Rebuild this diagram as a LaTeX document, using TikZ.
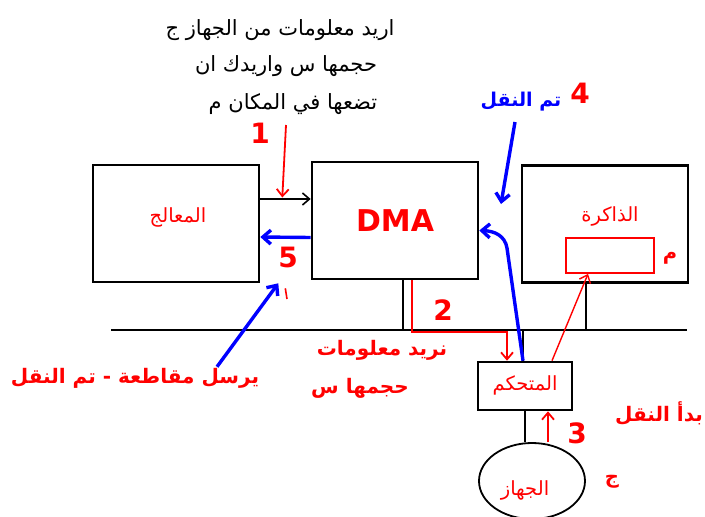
\documentclass[tikz,border=0pt]{standalone}
\usepackage{fontspec}
\usepackage{xcolor}
\usepackage{tikz}
\usetikzlibrary{arrows.meta,positioning,shapes.geometric}
\setsansfont{DejaVu Sans}
\newfontfamily\arabicfont[Script=Arabic]{DejaVu Sans}
\TeXXeTstate=1
\newcommand{\artext}[1]{\hbox{\arabicfont\beginR #1\endR}}
\definecolor{sigred}{RGB}{255,0,0}
\definecolor{sigblue}{RGB}{0,0,255}

\begin{document}
\begin{tikzpicture}[
  x=1pt, y=-1pt,
  unit/.style={draw, line width=2.6pt, minimum width=166pt, minimum height=117pt, inner sep=0pt},
  rlbl/.style={text=sigred, font=\fontsize{19.5}{21}\selectfont, inner sep=1pt},
  note/.style={text=black, font=\fontsize{21}{23}\selectfont, inner sep=1pt},
  rnote/.style={text=sigred, font=\bfseries\fontsize{20}{22}\selectfont, inner sep=1pt},
  bnote/.style={text=sigblue, font=\bfseries\fontsize{19}{21}\selectfont, inner sep=1pt},
  stepno/.style={text=sigred, font=\sffamily\bfseries\fontsize{28}{30}\selectfont, inner sep=0pt},
  wire/.style={line width=2.6pt},
  blk/.style={-{Straight Barb[length=7pt,width=12pt]}, line width=1.6pt},
  red arrow/.style={-{Straight Barb[length=7pt,width=12pt]}, draw=sigred, line width=1.8pt},
  blue arrow/.style={-{Straight Barb[length=8pt,width=14pt]}, draw=sigblue, line width=3.4pt}
]
\useasboundingbox (0,0) rectangle (705,517);

% units
\node[unit] (cpu) at (176,223.5) {};
\node[unit, text=sigred, font=\sffamily\bfseries\fontsize{30}{32}\selectfont] (dma) at (395,220.5) {DMA};
\node[unit] (mem) at (605,224) {};
\node[draw=sigred, line width=1.8pt, minimum width=88pt, minimum height=35pt] (slot) at (610,255.5) {};
\node[unit, minimum width=94pt, minimum height=48pt] (ctrl) at (525,386) {};
\node[draw, ellipse, line width=1.8pt, minimum width=106pt, minimum height=76pt] (dev) at (532,481) {};

\node[rlbl] (cpulbl) at (178,217) {\artext{المعالج}};
\node[rlbl] (memlbl) at (610,216) {\artext{الذاكرة}};
\node[rlbl] (ctrllbl) at (525,385) {\artext{المتحكم}};
\node[rlbl] (devlbl) at (525,490) {\artext{الجهاز}};
\node[rlbl, font=\bfseries\fontsize{19.5}{21}\selectfont] (slotname) at (670,258) {\artext{م}};
\node[rlbl, font=\bfseries\fontsize{19.5}{21}\selectfont] (devname) at (612,482) {\artext{ج}};

% texts
\node[note] (req1) at (280,30) {\artext{اريد معلومات من الجهاز ج}};
\node[note] (req2) at (286,66) {\artext{حجمها س واريدك ان}};
\node[note] (req3) at (293,104) {\artext{تضعها في المكان م}};
\node[rnote] (irq) at (135,378) {\artext{يرسل مقاطعة - تم النقل}};
\node[rnote] (ask1) at (382,350) {\artext{نريد معلومات}};
\node[rnote] (ask2) at (360,388) {\artext{حجمها س}};
\node[rnote] (start) at (659,413) {\artext{بدأ النقل}};
\node[bnote] (done) at (521,102) {\artext{تم النقل}};

\node[stepno] (n1) at (260,133) {1};
\node[stepno] (n2) at (443,310) {2};
\node[stepno] (n3) at (577,433) {3};
\node[stepno] (n4) at (580,93) {4};
\node[stepno] (n5) at (288,257) {5};

% bus
\coordinate (busL) at (111,330);
\coordinate (busR) at (687,330);
\draw[wire] (busL) -- (busR);
\draw[wire] ([xshift=8pt]dma.south) -- ([xshift=8pt]dma.south |- busL);
\draw[wire] ([xshift=-19pt]mem.south) -- ([xshift=-19pt]mem.south |- busL);
\draw[wire] ([xshift=-2pt]ctrl.north) -- ([xshift=-2pt]ctrl.north |- busL);
\draw[wire] (ctrl.south) -- (ctrl.south |- dev.north);

% steps
\draw[blk] ([yshift=24.5pt]cpu.east) -- ([yshift=21.5pt]dma.west);
\coordinate (r1top) at (286,125);
\draw[red arrow] (r1top) -- ([xshift=22pt,yshift=26pt]cpu.east);
\draw[red arrow] ([xshift=17pt]dma.south) |- ([xshift=-18pt,yshift=29pt]ctrl.north) -- ([xshift=-18pt]ctrl.north);
\draw[red arrow] ([xshift=23pt]ctrl.south |- dev.north) -- ([xshift=23pt]ctrl.south);
\draw[red arrow, line width=1.4pt] ([xshift=27pt]ctrl.north) -- ([xshift=-22pt]slot.south);
\draw[blue arrow] ([xshift=-2pt]ctrl.north) -- (507,248) .. controls (505,236) and (495,231) .. ([yshift=-10pt]dma.east);
\coordinate (b4top) at (515,122);
\coordinate (b4tip) at (501,204);
\draw[blue arrow] (b4top) -- (b4tip);
\draw[blue arrow] ([yshift=-17pt]dma.west) -- ([yshift=-13.5pt]cpu.east);
\draw[blue arrow] ([xshift=82pt]irq.north) -- ([xshift=18pt]cpu.south east);
\coordinate (redtick) at (287,299);
\draw[draw=sigred, line width=1.6pt] ([xshift=25pt,yshift=-5pt]cpu.south east) -- (redtick);
\end{tikzpicture}
\end{document}
